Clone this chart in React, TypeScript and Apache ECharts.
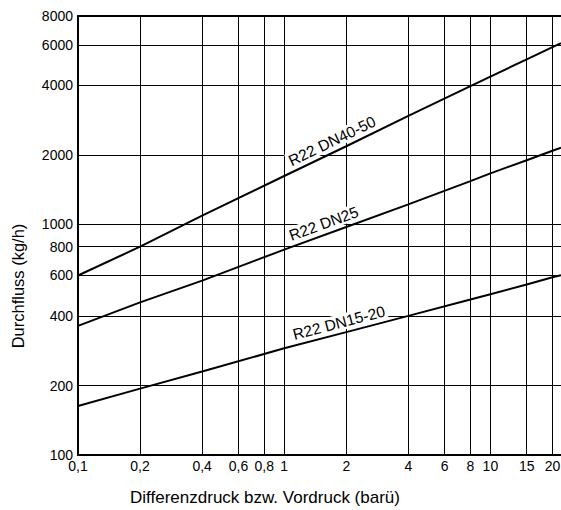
import React, { useEffect, useRef } from 'react';
import * as echarts from 'echarts';

// Differenzdruck (bar) sample positions
const pressure = [0.1, 0.2, 0.4, 1, 2, 4, 8, 10, 15, 20, 22];
// Durchfluss (kg/h) for each curve
const flowDN4050 = [600, 800, 1090, 1620, 2180, 2950, 3970, 4370, 5190, 5860, 6100];
const flowDN25 = [363, 459, 570, 777, 974, 1221, 1540, 1663, 1896, 2084, 2150];
const flowDN1520 = [163, 194, 230, 290, 341, 401, 472, 498, 548, 590, 601];
const seriesNames = ['R22 DN40-50', 'R22 DN25', 'R22 DN15-20'];
const labelAtPressure = [1.8, 1.62, 1.9];

const xTicks = [0.1, 0.2, 0.4, 0.6, 0.8, 1, 2, 4, 6, 8, 10, 15, 20];
const yTicks = [100, 200, 400, 600, 800, 1000, 2000, 4000, 6000, 8000];
const xMin = 0.1;
const xMax = 22;
const yMin = 100;
const yMax = 8000;

const xTitle = 'Differenzdruck bzw. Vordruck (barü)';
const yTitle = 'Durchfluss (kg/h)';

const FONT = '"Liberation Sans", Arial, Helvetica, sans-serif';
const lg = Math.log10;

const fmtNum = (v: number) => {
  const r = Math.round(v * 100) / 100;
  return String(r).replace('.', ',');
};

function interpLogLog(xs: number[], ys: number[], x: number) {
  for (let i = 0; i < xs.length - 1; i++) {
    if (x >= xs[i] && x <= xs[i + 1]) {
      const t = (lg(x) - lg(xs[i])) / (lg(xs[i + 1]) - lg(xs[i]));
      return Math.pow(10, lg(ys[i]) + t * (lg(ys[i + 1]) - lg(ys[i])));
    }
  }
  return ys[ys.length - 1];
}

export default function App() {
  const ref = useRef<HTMLDivElement>(null);

  useEffect(() => {
    if (!ref.current) return;
    const chart = echarts.init(ref.current, undefined, { renderer: 'svg' });
    const flows = [flowDN4050, flowDN25, flowDN1520];

    const axisLineStyle = { color: '#000', width: 2 };
    const gridLine = { show: true, lineStyle: { color: '#000', width: 1, type: 'solid' as const } };

    chart.setOption({
      animation: false,
      grid: { left: 78, right: 0, top: 16, bottom: 55, containLabel: false, outerBoundsMode: 'none' },
      xAxis: [
        {
          type: 'value',
          min: lg(xMin),
          max: lg(xMax),
          axisLine: { show: true, onZero: false, lineStyle: axisLineStyle },
          axisTick: { show: false, customValues: xTicks.map(lg) },
          axisLabel: {
            customValues: xTicks.map(lg),
            formatter: (v: number) => fmtNum(Math.pow(10, v)),
            color: '#000',
            fontSize: 14,
            fontFamily: FONT,
            margin: 4,
          },
          splitLine: gridLine,
        },
        {
          type: 'value',
          position: 'top',
          min: lg(xMin),
          max: lg(xMax),
          axisLine: { show: true, onZero: false, lineStyle: axisLineStyle },
          axisTick: { show: false },
          axisLabel: { show: false },
          splitLine: { show: false },
        },
      ],
      yAxis: {
        type: 'value',
        min: lg(yMin),
        max: lg(yMax),
        axisLine: { show: true, onZero: false, lineStyle: axisLineStyle },
        axisTick: { show: false, customValues: yTicks.map(lg) },
        axisLabel: {
          customValues: yTicks.map(lg),
          formatter: (v: number) => String(Math.round(Math.pow(10, v))),
          color: '#000',
          fontSize: 14,
          fontFamily: FONT,
          margin: 5,
        },
        splitLine: gridLine,
      },
      series: flows.map((f, i) => ({
        name: seriesNames[i],
        type: 'line',
        showSymbol: false,
        symbol: 'none',
        lineStyle: { color: '#000', width: 2 },
        data: pressure.map((p, j) => [lg(p), lg(f[j])]),
        z: 3,
      })),
    });

    const labels = flows.map((f, i) => {
      const xa = labelAtPressure[i];
      const ya = interpLogLog(pressure, f, xa);
      const p = chart.convertToPixel({ gridIndex: 0 }, [lg(xa), lg(ya)]) as number[];
      const x1 = xa * 0.8;
      const x2 = xa * 1.25;
      const p1 = chart.convertToPixel({ gridIndex: 0 }, [lg(x1), lg(interpLogLog(pressure, f, x1))]) as number[];
      const p2 = chart.convertToPixel({ gridIndex: 0 }, [lg(x2), lg(interpLogLog(pressure, f, x2))]) as number[];
      const angle = Math.atan2(-(p2[1] - p1[1]), p2[0] - p1[0]);
      return {
        type: 'text',
        x: p[0],
        y: p[1],
        rotation: angle,
        z: 10,
        style: {
          text: seriesNames[i],
          x: 0,
          y: -3,
          align: 'center',
          verticalAlign: 'bottom',
          textAlign: 'center',
          textVerticalAlign: 'bottom',
          fill: '#000',
          font: `15.5px ${FONT}`,
          backgroundColor: '#fff',
          padding: [0, 2, 0, 2],
        },
      };
    });

    chart.setOption({
      graphic: [
        ...labels,
        {
          type: 'text',
          x: 265,
          y: 497,
          style: {
            text: xTitle,
            align: 'center',
            verticalAlign: 'middle',
            textAlign: 'center',
            textVerticalAlign: 'middle',
            fill: '#000',
            font: `17px ${FONT}`,
          },
        },
        {
          type: 'text',
          x: 18,
          y: 286,
          rotation: Math.PI / 2,
          style: {
            text: yTitle,
            align: 'center',
            verticalAlign: 'middle',
            textAlign: 'center',
            textVerticalAlign: 'middle',
            fill: '#000',
            font: `16.5px ${FONT}`,
          },
        },
      ],
    });

    return () => chart.dispose();
  }, []);

  return (
    <div
      ref={ref}
      style={{ position: 'absolute', left: 0, top: 0, width: 561, height: 510, background: '#fff' }}
    />
  );
}
